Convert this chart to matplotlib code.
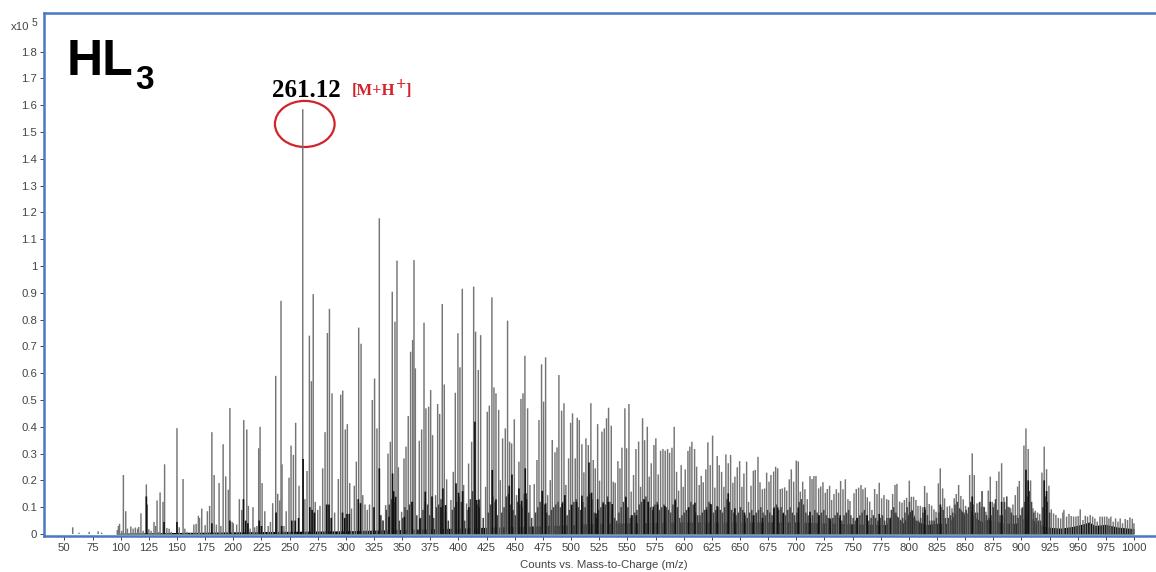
import matplotlib
matplotlib.use("Agg")
import matplotlib.pyplot as plt
from matplotlib.patches import Ellipse

plt.rcParams["font.family"] = ["Liberation Sans", "DejaVu Sans"]

# tall peaks (m/z, counts x10^5)
mz_low = [57.4, 102.4, 104.5, 118, 122.8, 129.6, 132.3, 135, 137.6, 139, 150, 155.4, 172, 177, 179, 181, 183,
          187.4, 191, 193.3, 195.6, 197, 205.4, 207.5, 209.3, 212, 213.4, 217.5, 222.6, 223.8, 225.6, 228, 235,
          237.7, 239.5, 241.3, 242.4, 243.3, 249.5, 251.3, 253.4, 255.4, 258.4, 261.7, 263.6, 265.5, 267.6, 269.4, 271,
          272.8, 277, 279.4, 281.5, 283.6, 285.4, 287.7, 293.3, 295.4, 297.2, 299.5, 301.3, 303.4, 307.5, 309.3,
          311.4, 313.5, 315]
h_low = [0.025, 0.22, 0.085, 0.077, 0.185, 0.045, 0.125, 0.155, 0.12, 0.26, 0.395, 0.205, 0.095, 0.085, 0.105, 0.38,
         0.22, 0.19, 0.335, 0.215, 0.165, 0.47, 0.13, 0.09, 0.425, 0.39, 0.105, 0.10, 0.32, 0.40, 0.19, 0.085, 0.115,
         0.59, 0.15, 0.125, 0.87, 0.26, 0.21, 0.33, 0.295, 0.415, 0.18, 1.585, 0.13, 0.235, 0.74, 0.57, 0.895,
         0.12, 0.105, 0.245, 0.38, 0.75, 0.84, 0.525, 0.205, 0.52, 0.535, 0.39, 0.41, 0.19, 0.18, 0.27,
         0.77, 0.71, 0.145]

mz_mid = [323.5, 325.5, 327.6, 329.7, 335.3, 337.4, 339.5, 341.2, 343.6, 345.4, 346.6, 349.5, 351.6, 353.4, 355.4,
          357.5, 359.3, 360.5, 361.7, 365.2, 367.3, 369.4, 371.1, 373.5, 375.3, 377, 379.7, 381.5, 383.3, 385.6,
          387.4, 389.5, 393.3, 395.4, 397.2, 399.5, 401.3, 403.4, 404.6, 407.2, 409, 411.7, 413.5, 415.2, 417.6,
          419.7, 424.1, 425.6, 427.4, 429.7, 431.5, 433.3, 435.7, 437.1, 439.2, 441.6, 443.6, 445.4, 447.2, 449.6,
          451.6, 453.7, 455.5, 457.3, 459, 461.4, 463.5, 467.3, 469.7, 471.5, 473.8, 475.6, 477.4, 479.2, 481.5,
          483.3, 485.7, 487.5, 489.2]
h_mid = [0.50, 0.58, 0.394, 1.178, 0.108, 0.30, 0.344, 0.904, 0.792, 1.02, 0.249, 0.083, 0.282, 0.326, 0.44,
         0.68, 0.724, 1.022, 0.618, 0.348, 0.39, 0.788, 0.469, 0.475, 0.537, 0.369, 0.145, 0.485, 0.448, 0.858,
         0.558, 0.204, 0.127, 0.232, 0.527, 0.749, 0.622, 0.915, 0.183, 0.114, 0.263, 0.344, 0.923, 0.755, 0.612,
         0.742, 0.176, 0.456, 0.479, 0.883, 0.547, 0.525, 0.463, 0.201, 0.357, 0.394, 0.796, 0.344, 0.338, 0.428,
         0.145, 0.27, 0.504, 0.525, 0.665, 0.469, 0.183, 0.186, 0.276, 0.425, 0.633, 0.494, 0.659, 0.145, 0.201,
         0.351, 0.305, 0.323, 0.593]

mz_high = [491.6, 493.7, 495.4, 497.8, 499.6, 501.3, 503.7, 505.5, 507.3, 509.6, 511.4, 513.2, 515.3, 517.6, 519.7,
           521.5, 523.6, 525.3, 527.4, 529.5, 531.5, 533.3, 535.7, 537.5, 539.2, 541.6, 543.4, 545.2, 547.8, 549.3,
           551.4, 553.4, 555.5, 557.6, 560, 561.7, 563.5, 565.3, 567.7, 569.4, 571.2, 573.6, 575.3, 577.4, 579.5,
           581.6, 583.6, 585.7, 587.5, 589.6, 591.6, 593.7, 595.5, 597.8, 599.6, 601.4, 603.8, 605.5, 607.3, 609.7,
           611.5, 613.8, 615.6, 617.4, 619.7, 621.5, 623.6, 625.7, 627.7, 629.8, 631.6, 633.7, 635.7, 637.5, 639.6,
           641.7, 643.7, 645.5, 647.6, 649.7, 651.7, 653.5, 655.9, 657.6]
h_high = [0.46, 0.488, 0.183, 0.282, 0.415, 0.45, 0.282, 0.434, 0.425, 0.335, 0.23, 0.357, 0.332, 0.488, 0.276,
          0.245, 0.41, 0.199, 0.382, 0.394, 0.432, 0.471, 0.404, 0.195, 0.191, 0.272, 0.245, 0.322, 0.469, 0.32,
          0.485, 0.158, 0.22, 0.317, 0.345, 0.176, 0.432, 0.35, 0.4, 0.214, 0.264, 0.332, 0.357, 0.222, 0.311,
          0.317, 0.311, 0.317, 0.303, 0.322, 0.4, 0.232, 0.162, 0.257, 0.176, 0.241, 0.31, 0.326, 0.344, 0.317,
          0.251, 0.183, 0.217, 0.193, 0.241, 0.342, 0.257, 0.367, 0.173, 0.291, 0.257, 0.232, 0.176, 0.297, 0.264,
          0.295, 0.191, 0.214, 0.249, 0.272, 0.176, 0.226, 0.27, 0.12]

mz_tail1 = [659.8, 661.9, 663.6, 666, 667.8, 669.9, 671.9, 673.7, 675.8, 677.5, 679.9, 681.7, 683.5, 685.8, 687.6,
            689.7, 691.5, 693.8, 695.6, 697.7, 700, 701.8, 703.6, 705.7, 707.7, 709.8, 712.2, 714, 715.7, 717.5,
            719.9, 721.7, 723.7, 725.8, 727.6, 729.6, 731.4, 733.5, 735.6, 737.6, 739.4, 741.5, 743.6, 745.9, 747.7,
            751.3, 753.3, 755.4, 757.5, 759.2, 761.3, 763.1, 765.2, 767.2, 769.6, 771.7, 773.7, 775.8, 777.9, 780.3,
            782, 785.6, 787.7, 789.4, 791.8, 793.9, 796, 798, 800.4, 802.2, 804.2, 806.3, 808.1, 810.2, 812.2,
            814, 816.1, 818.1, 820.2, 822.3, 824.1, 826.2]
h_tail1 = [0.18, 0.236, 0.239, 0.288, 0.193, 0.167, 0.17, 0.229, 0.195, 0.22, 0.233, 0.251, 0.245, 0.168, 0.17,
           0.174, 0.162, 0.204, 0.241, 0.195, 0.274, 0.271, 0.158, 0.195, 0.167, 0.13, 0.216, 0.205, 0.216, 0.216,
           0.17, 0.177, 0.193, 0.154, 0.168, 0.18, 0.127, 0.149, 0.167, 0.154, 0.198, 0.167, 0.204, 0.13, 0.123,
           0.152, 0.168, 0.173, 0.183, 0.167, 0.173, 0.137, 0.121, 0.09, 0.168, 0.149, 0.191, 0.133, 0.145, 0.13,
           0.127, 0.149, 0.183, 0.187, 0.121, 0.117, 0.127, 0.135, 0.199, 0.139, 0.139, 0.127, 0.105, 0.105, 0.1,
           0.179, 0.154, 0.112, 0.106, 0.092, 0.083, 0.189]

mz_tail2 = [827.9, 830, 831.7, 834.1, 836.2, 838.3, 840.3, 842.1, 844.2, 846.2, 848.3, 850.4, 852.2, 854, 856.3,
            858.1, 860.5, 862.5, 864.3, 866.4, 868.4, 870.5, 872.3, 874.1, 875.8, 877.9, 880, 882.4, 884.4, 885.9,
            888, 890.4, 892.4, 894.5, 896.6, 898.1, 900.1, 902.2, 904, 906, 908.1, 910.2, 912.3, 914.3, 916.2,
            918.2, 920.2, 922.3, 924.4, 926.5, 928.5, 930.6, 932.7, 934.8, 936.8, 937.7, 940.1, 942.2, 944.2, 946.3,
            948.4, 950.4, 952.2, 954.6, 956.7, 958.7, 961.1, 963.2, 965.2, 967.3, 969.7, 971.8, 973.8, 975.9, 977.7,
            979.4, 981.5, 983.6, 985.7, 987.7, 989.8, 992.2, 994.2, 996.3, 998.4, 999.9]
h_tail2 = [0.245, 0.17, 0.133, 0.102, 0.105, 0.096, 0.133, 0.149, 0.183, 0.142, 0.129, 0.105, 0.077, 0.22, 0.301,
           0.22, 0.114, 0.117, 0.1, 0.102, 0.083, 0.162, 0.214, 0.12, 0.114, 0.198, 0.233, 0.264, 0.137, 0.092,
           0.102, 0.096, 0.11, 0.145, 0.177, 0.198, 0.096, 0.33, 0.394, 0.317, 0.2, 0.096, 0.087, 0.08, 0.075,
           0.229, 0.326, 0.242, 0.18, 0.092, 0.077, 0.071, 0.06, 0.058, 0.08, 0.09, 0.065, 0.075, 0.067, 0.065,
           0.065, 0.067, 0.092, 0.052, 0.068, 0.065, 0.071, 0.065, 0.058, 0.046, 0.065, 0.065, 0.065, 0.065, 0.058,
           0.065, 0.046, 0.058, 0.046, 0.058, 0.04, 0.056, 0.052, 0.062, 0.057, 0.04]

# small peaks in the low mass range
mz_small = [63, 72, 80, 83, 97, 98, 99, 101, 106, 109, 111, 113, 115, 116, 120, 125, 127, 131, 134, 141, 143, 145,
            152, 157, 159, 162, 165, 167, 169, 170, 175, 185, 189, 199, 200, 203, 215, 219, 221, 231, 233, 245,
            247, 275, 290, 305, 317, 319, 321, 331, 333]
h_small = [0.005, 0.008, 0.01, 0.005, 0.015, 0.03, 0.038, 0.012, 0.02, 0.028, 0.02, 0.024, 0.02, 0.026, 0.012, 0.018,
           0.012, 0.03, 0.008, 0.022, 0.02, 0.008, 0.025, 0.02, 0.008, 0.005, 0.035, 0.038, 0.068, 0.06, 0.033,
           0.035, 0.03, 0.045, 0.04, 0.035, 0.02, 0.025, 0.03, 0.03, 0.045, 0.03, 0.085, 0.09, 0.08, 0.095, 0.11,
           0.09, 0.11, 0.07, 0.05]

# darker second rank peaks sitting under the tall ones
mz_dark = [122.8, 123.2, 138.5, 150, 181, 197, 209, 211, 213, 223, 225, 238, 243, 252, 255, 258, 262, 268, 270, 272,
           283, 285, 287, 297, 299, 301, 303, 311, 313, 325, 329.7, 338.3, 341.5, 342.4, 344.2, 352, 359, 365.8,
           370.5, 376.5, 384.5, 386.2, 388.6, 397.8, 400.1, 403.7, 409.3, 414.6, 416.1, 418.2, 430, 433.3, 445.1,
           447.5, 453.7, 456.1, 459.3, 459.9, 474.4, 477.4, 492.2, 494.5, 500.5, 504.9, 509.6, 515.9, 518.2, 522.1,
           523.6, 528.6, 533, 536.6, 548.7, 553.7, 558, 565, 568.5, 573, 576.8, 583.3, 592.5, 604.4, 610, 620.3,
           623.9, 629.8, 639.6, 645.5, 654, 661.9, 670, 680, 683.5, 688.5, 701.8, 712.2, 720, 730, 739, 754, 763,
           773.7, 814, 828, 856.3, 872.3, 882.4, 904, 906, 920.2, 922.3]
h_dark = [0.14, 0.11, 0.045, 0.045, 0.04, 0.05, 0.13, 0.05, 0.04, 0.05, 0.03, 0.08, 0.03, 0.05, 0.05, 0.06, 0.28,
          0.1, 0.09, 0.08, 0.11, 0.11, 0.06, 0.08, 0.06, 0.075, 0.075, 0.13, 0.115, 0.1, 0.245, 0.064, 0.226, 0.16,
          0.139, 0.064, 0.12, 0.058, 0.158, 0.14, 0.1, 0.17, 0.108, 0.189, 0.154, 0.16, 0.1, 0.419, 0.127, 0.129,
          0.239, 0.129, 0.18, 0.222, 0.17, 0.124, 0.245, 0.152, 0.161, 0.114, 0.114, 0.145, 0.108, 0.12, 0.143,
          0.267, 0.154, 0.077, 0.13, 0.114, 0.12, 0.112, 0.137, 0.07, 0.07, 0.129, 0.12, 0.102, 0.11, 0.104, 0.124,
          0.099, 0.117, 0.09, 0.112, 0.104, 0.152, 0.096, 0.08, 0.07, 0.06, 0.096, 0.099, 0.077, 0.099, 0.083, 0.07,
          0.058, 0.07, 0.06, 0.07, 0.075, 0.1, 0.11, 0.14, 0.12, 0.12, 0.24, 0.2, 0.2, 0.16]

# dense comb of low peaks between the tall ones
mz_comb = [331, 333, 336, 338.5, 340.5, 342.8, 347.5, 350.5, 352.5, 354.5, 356.5, 358.4, 363, 366.5, 368.5, 370.5,
           372.5, 374.5, 378, 380.5, 382.5, 384.5, 388.5, 391, 394.5, 396.5, 398.5, 400.5, 402.5, 405.5, 408.5,
           410.5, 412.5, 416.5, 418.5, 422, 426.5, 428.5, 430.5, 432.5, 434.5, 438.5, 440.5, 442.5, 444.5, 446.5,
           448.5, 450.5, 452.5, 454.5, 456.5, 458.5, 460.5, 462.5, 465, 468.5, 470.5, 472.5, 474.5, 476.5, 478.5,
           480.5, 482.5, 484.5, 486.5, 488.5, 490.5, 492.6, 494.5, 496.5, 498.5, 500.5, 502.5, 504.5, 506.5, 508.5,
           510.5, 512.5, 514.5, 516.5, 518.5, 520.5, 522.5, 524.5, 526.5, 528.5, 530.5, 532.5, 534.5, 536.5, 538.5,
           540.5, 542.5, 544.5, 546.5, 548.5, 550.5, 552.5, 554.5, 556.5, 558.5, 560.5, 562.5, 564.5, 566.5, 568.5,
           570.5, 572.5, 574.5, 576.5, 578.5, 580.5, 582.5, 584.5, 586.5, 588.5, 590.5, 592.5, 594.5, 596.5, 598.5,
           600.5, 602.5, 604.5, 606.5, 608.5, 610.5, 612.5, 614.5, 616.5, 618.5, 620.5, 622.5, 624.5, 626.5, 628.5,
           630.5, 632.5, 634.5, 636.5, 638.5, 640.5, 642.5, 644.5, 646.5, 648.5, 650.5, 652.5, 654.5, 656.5, 658.5,
           660.5, 662.5, 664.5, 666.5, 668.5, 670.5, 672.5, 674.5, 676.5, 678.5, 680.5, 682.5, 684.5, 686.5, 688.5,
           690.5, 692.5, 694.5, 696.5, 698.5, 700.5, 702.5, 704.5, 706.5, 708.5, 710.5, 712.5, 714.5, 716.5, 718.5,
           720.5, 722.5, 724.5, 726.5, 728.5, 730.5, 732.5, 734.5, 736.5, 738.5, 740.5, 742.5, 744.5, 746.5, 748.5,
           750.5, 752.5, 754.5, 756.5, 758.5, 760.5, 762.5, 764.5, 766.5, 768.5, 770.5, 772.5, 774.5, 776.5, 778.5,
           780.5, 782.5, 784.5, 786.5, 788.5, 790.5, 792.5, 794.5, 796.5, 798.5, 800.5, 802.5, 804.5, 806.5, 808.5,
           810.5, 812.5, 814.5, 816.5, 818.5, 820.5, 822.5, 824.5, 826.5, 828.5, 830.5, 832.5, 835, 837, 839, 841,
           843, 845, 847, 849, 851, 853, 855, 857, 859, 861, 863, 865, 867, 869, 871, 873, 875, 877, 879, 881,
           883, 885, 887, 889, 891, 893, 895, 897, 899, 901, 903, 905, 907, 909, 911, 913, 915, 917, 919, 921, 923, 925]
h_comb = [0.07, 0.05, 0.09, 0.11, 0.13, 0.12, 0.05, 0.06, 0.1, 0.09, 0.11, 0.12, 0.07, 0.06, 0.09, 0.12, 0.11, 0.07,
          0.06, 0.1, 0.11, 0.13, 0.08, 0.05, 0.09, 0.1, 0.12, 0.14, 0.12, 0.05, 0.09, 0.13, 0.16, 0.11, 0.1, 0.06,
          0.08, 0.11, 0.14, 0.12, 0.07, 0.08, 0.1, 0.14, 0.15, 0.11, 0.09, 0.07, 0.12, 0.11, 0.1, 0.15, 0.13, 0.08,
          0.06, 0.08, 0.1, 0.12, 0.14, 0.11, 0.08, 0.07, 0.09, 0.1, 0.11, 0.12, 0.1, 0.12, 0.13, 0.07, 0.09, 0.11,
          0.12, 0.13, 0.1, 0.09, 0.12, 0.1, 0.14, 0.15, 0.13, 0.08, 0.06, 0.09, 0.1, 0.12, 0.11, 0.14, 0.12, 0.09,
          0.06, 0.05, 0.08, 0.1, 0.12, 0.14, 0.1, 0.06, 0.07, 0.08, 0.09, 0.11, 0.12, 0.13, 0.14, 0.12, 0.1, 0.09,
          0.11, 0.12, 0.09, 0.1, 0.11, 0.1, 0.09, 0.08, 0.11, 0.13, 0.1, 0.06, 0.07, 0.08, 0.09, 0.1, 0.12, 0.11,
          0.08, 0.07, 0.07, 0.08, 0.09, 0.1, 0.12, 0.11, 0.08, 0.09, 0.1, 0.09, 0.08, 0.1, 0.13, 0.12, 0.09, 0.08,
          0.07, 0.08, 0.1, 0.09, 0.07, 0.06, 0.08, 0.09, 0.07, 0.08, 0.09, 0.1, 0.08, 0.07, 0.09, 0.08, 0.07, 0.1,
          0.11, 0.09, 0.1, 0.08, 0.07, 0.09, 0.1, 0.08, 0.07, 0.08, 0.12, 0.13, 0.11, 0.08, 0.07, 0.06, 0.07, 0.09,
          0.08, 0.07, 0.08, 0.09, 0.07, 0.06, 0.05, 0.06, 0.07, 0.08, 0.06, 0.05, 0.07, 0.08, 0.09, 0.07, 0.06, 0.05,
          0.06, 0.07, 0.08, 0.09, 0.07, 0.05, 0.06, 0.07, 0.06, 0.05, 0.06, 0.07, 0.05, 0.06,
          0.06, 0.09, 0.1, 0.08, 0.06, 0.05, 0.06, 0.08, 0.1, 0.12, 0.09, 0.06, 0.05, 0.05, 0.06, 0.08, 0.09, 0.07,
          0.05, 0.05, 0.05, 0.06, 0.08, 0.1, 0.09, 0.06, 0.06, 0.07, 0.08, 0.11, 0.12, 0.09, 0.07, 0.08, 0.09, 0.1,
          0.12, 0.11, 0.08, 0.08, 0.12, 0.16, 0.1, 0.07, 0.06, 0.07, 0.1, 0.13, 0.09, 0.07, 0.07, 0.12, 0.14, 0.1,
          0.08, 0.07, 0.07, 0.06, 0.07, 0.1, 0.12, 0.14, 0.16, 0.12, 0.08, 0.06, 0.05, 0.05, 0.1, 0.14, 0.12, 0.08]

# solid black base of the spectrum
mz_base = [96, 200, 300, 340, 400, 450, 500, 520, 560, 600, 650, 700, 750, 780, 786, 790, 795, 800, 803, 806, 815,
           825, 835, 845, 850, 855, 858, 865, 870, 875, 885, 895, 900, 905, 915, 925, 935, 945, 955, 960, 965, 975,
           985, 1000]
h_base = [0.003, 0.008, 0.012, 0.016, 0.022, 0.028, 0.034, 0.04, 0.042, 0.045, 0.045, 0.045, 0.038, 0.035, 0.085, 0.065,
          0.04, 0.08, 0.09, 0.05, 0.035, 0.04, 0.04, 0.1, 0.065, 0.09, 0.065, 0.045, 0.055, 0.05, 0.04, 0.04,
          0.05, 0.075, 0.035, 0.025, 0.022, 0.028, 0.038, 0.045, 0.032, 0.036, 0.026, 0.02]

x_ticks = list(range(50, 1001, 25))
y_ticks = [0, 0.1, 0.2, 0.3, 0.4, 0.5, 0.6, 0.7, 0.8, 0.9, 1, 1.1, 1.2, 1.3, 1.4, 1.5, 1.6, 1.7, 1.8]

W, H = 1156, 572
BLUE = "#4a78c2"
GREY = "#444444"
RED = "#d2232a"

fig = plt.figure(figsize=(W / 100, H / 100), dpi=100)
ax = fig.add_axes([44 / W, 1 - 536 / H, (W - 44) / W, (536 - 13) / H])

for m, h in [(mz_small, h_small), (mz_low, h_low), (mz_mid, h_mid), (mz_high, h_high),
             (mz_tail1, h_tail1), (mz_tail2, h_tail2)]:
    ax.vlines(m, 0, h, color="#757575", lw=1.05, snap=False)
ax.vlines(mz_comb, 0, h_comb, color="#444444", lw=1.1, snap=False)
ax.vlines(mz_dark, 0, h_dark, color="#111111", lw=1.2, snap=False)
ax.fill_between(mz_base, 0, h_base, color="black", lw=0)

ax.set_xlim(31.9, 1019.5)
ax.set_ylim(-0.0075, 1.944)
ax.set_xticks(x_ticks)
ax.set_xticklabels([str(t) for t in x_ticks])
ax.set_yticks(y_ticks)
ax.set_yticklabels([f"{t:g}" for t in y_ticks])
ax.tick_params(length=3, width=0.7, color=GREY, labelcolor=GREY, labelsize=8.2, pad=2)
ax.set_xlabel("Counts vs. Mass-to-Charge (m/z)", color=GREY, fontsize=8.2, labelpad=5, x=0.5035)

for side in ["top", "left", "bottom"]:
    ax.spines[side].set_color(BLUE)
    ax.spines[side].set_linewidth(1.8)
ax.spines["right"].set_visible(False)

# annotations placed in pixels of the figure
def px(x, y):
    return x / W, 1 - y / H

fig.text(*px(11, 30), "x10", color=GREY, fontsize=8.2)
fig.text(*px(32, 26), "5", color=GREY, fontsize=7.5)
fig.text(*px(67, 75), "HL", color="black", fontsize=36, fontweight="bold")
fig.text(*px(135, 89), "3", color="black", fontsize=24, fontweight="bold")
fig.text(*px(272, 97), "261.12", color="black", fontsize=18, fontweight="bold", family="Liberation Serif")
fig.text(*px(352, 95), "[M+H", color=RED, fontsize=12, fontweight="bold", family="Liberation Serif")
fig.text(*px(396, 90), "+", color=RED, fontsize=13, fontweight="bold", family="Liberation Serif")
fig.text(*px(405, 95), "]", color=RED, fontsize=12, fontweight="bold", family="Liberation Serif")
ax.add_patch(Ellipse((263.5, 1.53), 53, 0.172, fill=False, ec=RED, lw=1.6))

fig.savefig("out.png", dpi=100)
